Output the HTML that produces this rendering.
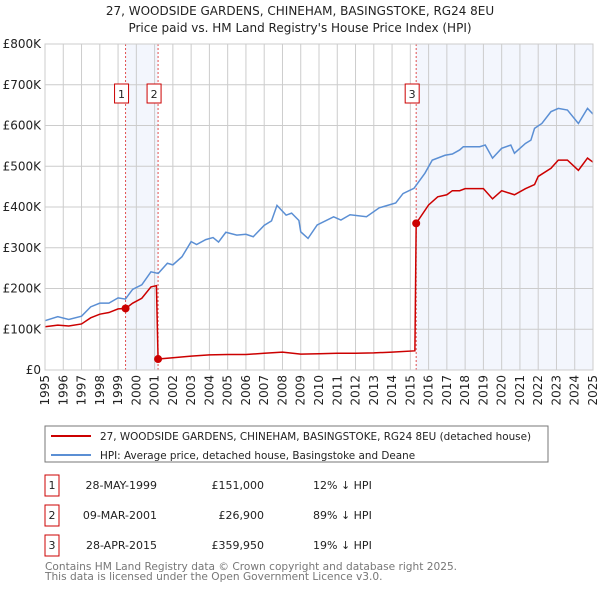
<!DOCTYPE html>
<html><head><meta charset="utf-8"><style>
body{margin:0;background:#fff;font-family:"Liberation Sans","DejaVu Sans",sans-serif;}
svg text{font-family:"DejaVu Sans","Liberation Sans",sans-serif;}
</style></head><body>
<svg id="c" width="600" height="590" xmlns="http://www.w3.org/2000/svg">
<text x="300" y="15" font-size="12" text-anchor="middle" fill="#222">27, WOODSIDE GARDENS, CHINEHAM, BASINGSTOKE, RG24 8EU</text>
<text x="300" y="32" font-size="12" text-anchor="middle" fill="#222">Price paid vs. HM Land Registry's House Price Index (HPI)</text>
<g id="plot"></g>
<rect x="45" y="426" width="503" height="36" fill="#fff" stroke="#777"/>
<line x1="51" y1="436" x2="91" y2="436" stroke="#cc0000" stroke-width="2"/>
<text x="100" y="440" font-size="10.4" fill="#222">27, WOODSIDE GARDENS, CHINEHAM, BASINGSTOKE, RG24 8EU (detached house)</text>
<line x1="51" y1="455" x2="91" y2="455" stroke="#5b8fd4" stroke-width="2"/>
<text x="100" y="459" font-size="10.4" fill="#222">HPI: Average price, detached house, Basingstoke and Deane</text>
<g id="tbl"></g>
<text x="45" y="570" font-size="10.6" fill="#777">Contains HM Land Registry data © Crown copyright and database right 2025.</text>
<text x="45" y="580" font-size="10.6" fill="#777">This data is licensed under the Open Government Licence v3.0.</text>
</svg>
<script>
const hpiYears=[1995,1995.7,1996.3,1997,1997.5,1998,1998.5,1999,1999.4,1999.8,2000.3,2000.8,2001.2,2001.7,2002,2002.5,2003,2003.3,2003.8,2004.2,2004.5,2004.9,2005.5,2006,2006.4,2007,2007.4,2007.7,2008.2,2008.5,2008.9,2009.0,2009.4,2009.9,2010.8,2011.2,2011.7,2012.6,2013.3,2014.2,2014.6,2015.2,2015.8,2016.2,2016.9,2017.3,2017.7,2017.9,2018.8,2019.1,2019.5,2020.0,2020.5,2020.7,2021.3,2021.6,2021.8,2022.2,2022.7,2023.1,2023.6,2024.2,2024.7,2025.0];
const hpiValues=[121,131,124,132,155,164,164,177,174,198,209,241,237,262,258,278,315,308,320,325,314,338,331,333,327,355,366,404,380,385,367,339,323,356,376,368,381,376,398,410,433,446,483,515,527,530,540,548,548,552,520,544,552,532,556,564,593,605,634,642,638,605,642,628];
const redYears=[1995,1995.7,1996.3,1997,1997.5,1998,1998.5,1999,1999.41,1999.8,2000.3,2000.8,2001.1,2001.19,2002,2003,2004,2005,2006,2007,2008,2009,2010,2011,2012,2013,2014,2015.25,2015.32,2016,2016.5,2017,2017.3,2017.7,2018,2019,2019.5,2020,2020.7,2021.3,2021.8,2022,2022.7,2023.1,2023.6,2024.2,2024.7,2025.0];
const redValues=[106,110,108,113,128,137,141,150,151,164,176,204,207,26.9,30,34,37,38,38,41,44,39,40,41,41,42,44,47,359.95,405,425,430,440,440,445,445,420,440,430,445,455,475,495,515,515,490,520,510];
const saleYears=[1999.41,2001.19,2015.32];
const saleValues=[151,26.9,359.95];
const saleLabels=["1","2","3"];
const saleDates=["28-MAY-1999","09-MAR-2001","28-APR-2015"];
const salePrices=["£151,000","£26,900","£359,950"];
const saleDiffs=["12% ↓ HPI","89% ↓ HPI","19% ↓ HPI"];
const yTicks=[0,100,200,300,400,500,600,700,800];
const yTickLabels=["£0","£100K","£200K","£300K","£400K","£500K","£600K","£700K","£800K"];
const xTicks=[1995,1996,1997,1998,1999,2000,2001,2002,2003,2004,2005,2006,2007,2008,2009,2010,2011,2012,2013,2014,2015,2016,2017,2018,2019,2020,2021,2022,2023,2024,2025];

const X0=45,X1=593,Y0=370,Y1=44;
const xs=v=>X0+(v-1995)/30*(X1-X0);
const ys=v=>Y0-v/800*(Y0-Y1);
const NS="http://www.w3.org/2000/svg";
const plot=document.getElementById('plot');
function mk(t,a,p){const e=document.createElementNS(NS,t);for(const k in a)e.setAttribute(k,a[k]);(p||plot).appendChild(e);return e;}
let e;
e=mk('rect',{x:X0,y:Y1,width:X1-X0,height:Y0-Y1,fill:'#fff'});


e=mk('rect',{x:xs(saleYears[0]),y:Y1,width:xs(saleYears[1])-xs(saleYears[0]),height:Y0-Y1,fill:'#f3f6fd'});


e=mk('rect',{x:xs(saleYears[2]),y:Y1,width:X1-xs(saleYears[2]),height:Y0-Y1,fill:'#f3f6fd'});


yTicks.forEach((t,i)=>{
 e=mk('line',{x1:X0,x2:X1,y1:ys(t),y2:ys(t),stroke:'#ccc','stroke-width':1});
 
 
 e=mk('text',{x:X0-4,y:ys(t)+4,'font-size':12,'text-anchor':'end',fill:'#222'});e.textContent=yTickLabels[i];
 
 
});
xTicks.forEach(t=>{
 e=mk('line',{x1:xs(t),x2:xs(t),y1:Y1,y2:Y0,stroke:'#ccc','stroke-width':1});
 
 
 e=mk('text',{x:0,y:0,'font-size':12,'text-anchor':'end',fill:'#222',transform:`translate(${xs(t)+4},${Y0+5}) rotate(-90)`});e.textContent=t;
 
 
});
saleYears.forEach((s,i)=>{
 e=mk('line',{x1:xs(s),x2:xs(s),y1:Y1,y2:Y0,stroke:'#e05050','stroke-width':1,'stroke-dasharray':'2,2'});
 
 
});
e=mk('polyline',{points:hpiYears.map((y,i)=>xs(y)+','+ys(hpiValues[i])).join(' '),fill:'none',stroke:'#5b8fd4','stroke-width':1.5});


e=mk('polyline',{points:redYears.map((y,i)=>xs(y)+','+ys(redValues[i])).join(' '),fill:'none',stroke:'#cc0000','stroke-width':1.5});


saleYears.forEach((s,i)=>{
 e=mk('circle',{cx:xs(s),cy:ys(saleValues[i]),r:4,fill:'#cc0000'});
 
 
 const bx=xs(s)-4;
 e=mk('rect',{x:bx-7,y:84,width:14,height:19,fill:'#fff',stroke:'#cc0000'});
 
 
 e=mk('text',{x:bx,y:98,'font-size':11,'text-anchor':'middle',fill:'#222'});e.textContent=saleLabels[i];
 
 
});
e=mk('rect',{x:X0,y:Y1,width:X1-X0,height:Y0-Y1,fill:'none',stroke:'#ccc'});


const tbl=document.getElementById('tbl');
saleLabels.forEach((l,i)=>{
 const y=485+i*30;
 e=mk('rect',{x:45,y:y-10,width:14,height:21,fill:'#fff',stroke:'#cc0000'},tbl);
 
 
 e=mk('text',{x:52,y:y+4,'font-size':11,'text-anchor':'middle',fill:'#222'},tbl);e.textContent=l;
 
 
 e=mk('text',{x:157,y:y+4,'font-size':11,'text-anchor':'end',fill:'#222'},tbl);e.textContent=saleDates[i];
 
 
 e=mk('text',{x:264,y:y+4,'font-size':11,'text-anchor':'end',fill:'#222'},tbl);e.textContent=salePrices[i];
 
 
 e=mk('text',{x:313,y:y+4,'font-size':11,fill:'#222'},tbl);e.textContent=saleDiffs[i];
 
 
});
</script>
</body></html>
